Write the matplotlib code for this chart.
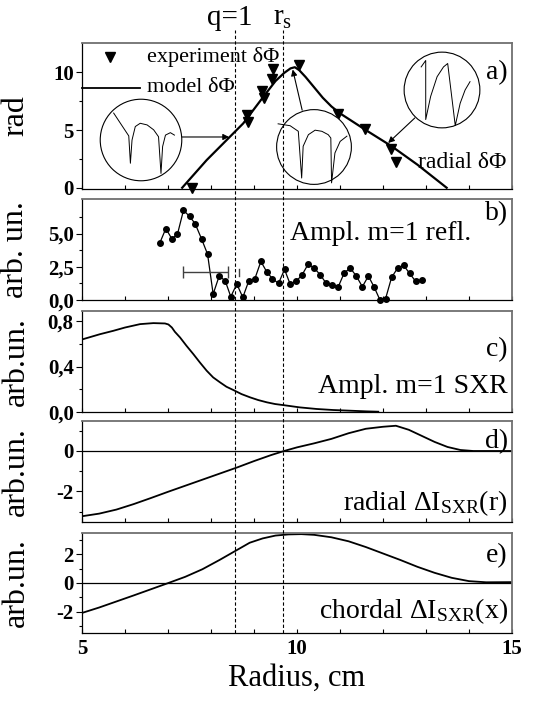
import numpy as np
import matplotlib.pyplot as plt
from matplotlib.lines import Line2D
from matplotlib.patches import Circle
from matplotlib.transforms import blended_transform_factory

plt.rcParams['font.family'] = ['Liberation Serif', 'DejaVu Serif']
plt.rcParams['mathtext.fontset'] = 'custom'
plt.rcParams['mathtext.rm'] = 'Liberation Serif'
plt.rcParams['mathtext.it'] = 'Liberation Serif:italic'

# a) phase perturbation, experiment and model
exp_r = [7.55, 8.83, 8.85, 9.18, 9.24, 9.41, 9.45, 10.05, 10.96, 11.58, 12.18, 12.3]
exp_phi = [0.0, 6.3, 5.7, 8.4, 7.8, 9.4, 10.3, 10.6, 6.4, 5.1, 3.4, 2.2]
mod_r = [7.33, 7.9, 8.44, 8.75, 9.22, 9.5, 9.7, 9.85, 9.95, 10.05, 10.2, 10.4, 10.6,
         10.8, 11.0, 11.6, 12.2, 12.8, 13.48]
mod_phi = [0.0, 2.4, 4.42, 5.58, 7.9, 9.25, 9.95, 10.35, 10.45, 10.2, 9.6, 8.7, 7.8,
           7.05, 6.45, 5.0, 3.6, 2.0, 0.0]

# b) reflectometry m=1 amplitude
refl_r = [6.81, 6.95, 7.09, 7.22, 7.36, 7.5, 7.63, 7.78, 7.92, 8.05, 8.19, 8.33, 8.46, 8.6,
          8.74, 8.88, 9.02, 9.16, 9.3, 9.43, 9.57, 9.71, 9.84, 9.98, 10.12, 10.26, 10.4,
          10.54, 10.68, 10.82, 10.96, 11.1, 11.24, 11.38, 11.52, 11.66, 11.79, 11.93,
          12.06, 12.2, 12.34, 12.48, 12.62, 12.76, 12.9]
refl_amp = [4.3, 5.375, 4.6, 4.95, 6.75, 6.3, 5.75, 4.6, 3.45, 0.45, 1.8, 1.45, 0.25, 1.2,
            0.2, 1.45, 1.6, 2.9, 2.1, 1.6, 1.25, 2.3, 1.2, 1.4, 1.9, 2.7, 2.4,
            1.9, 1.25, 1.15, 1.0, 2.05, 2.4, 1.8, 1.0, 1.8, 1.0, 0.0,
            0.1, 1.7, 2.4, 2.6, 2.0, 1.4, 1.5]

# c) SXR m=1 amplitude
sxr_r = [5.0, 5.42, 5.73, 6.0, 6.35, 6.66, 6.93, 7.01, 7.09, 7.16, 7.28, 7.43, 7.59, 7.74,
         7.9, 8.05, 8.21, 8.36, 8.52, 8.71, 8.91, 9.1, 9.3, 9.49, 9.67, 10.07, 10.46,
         10.84, 11.23, 11.62, 11.89]
sxr_amp = [0.64, 0.687, 0.717, 0.746, 0.776, 0.785, 0.782, 0.773, 0.746, 0.708, 0.658,
           0.584, 0.51, 0.437, 0.363, 0.304, 0.26, 0.221, 0.192, 0.156, 0.127, 0.103,
           0.083, 0.068, 0.059, 0.038, 0.024, 0.015, 0.009, 0.003, 0.0]

# d) radial SXR perturbation
rad_r = [5.0, 5.4, 5.8, 6.2, 6.6, 7.0, 7.4, 7.8, 8.2, 8.6, 9.0, 9.4, 9.7, 10.0, 10.4,
         10.8, 11.2, 11.6, 12.0, 12.3, 12.6, 12.9, 13.2, 13.5, 13.8, 14.1, 15.0]
rad_di = [-3.23, -3.1, -2.9, -2.63, -2.33, -2.02, -1.72, -1.42, -1.12, -0.82, -0.5, -0.2,
          0.0, 0.18, 0.38, 0.6, 0.88, 1.1, 1.2, 1.25, 1.05, 0.75, 0.45, 0.2, 0.05, 0.0, 0.0]

# e) chordal SXR perturbation
chd_x = [5.0, 5.4, 5.8, 6.2, 6.6, 7.0, 7.4, 7.8, 8.2, 8.55, 8.9, 9.2, 9.5, 9.8, 10.1,
         10.4, 10.8, 11.2, 11.6, 12.0, 12.4, 12.8, 13.2, 13.6, 14.0, 14.4, 15.0]
chd_di = [-2.1, -1.72, -1.3, -0.88, -0.45, -0.02, 0.42, 0.95, 1.6, 2.2, 2.8, 3.1, 3.3,
          3.38, 3.4, 3.35, 3.18, 2.9, 2.5, 2.05, 1.6, 1.12, 0.7, 0.35, 0.12, 0.04, 0.05]

r_q1 = 8.55
r_s = 9.67

# little signal sketches shown inside the circles (unit-circle coords)
sig1_x = [-0.67, -0.30, -0.26, -0.22, -0.14, -0.02, 0.15, 0.31, 0.43, 0.49, 0.53, 0.6, 0.72, 0.82]
sig1_y = [0.66, 0.10, -0.57, 0.0, 0.33, 0.41, 0.37, 0.25, 0.08, -0.82, -0.16, 0.12, 0.18, 0.12]
sig2_x = [-0.96, -0.64, -0.42, -0.33, -0.29, -0.15, 0.03, 0.21, 0.38, 0.45, 0.47, 0.56, 0.7, 0.88]
sig2_y = [0.62, 0.57, 0.42, -0.83, 0.02, 0.33, 0.45, 0.42, 0.33, 0.24, -0.96, -0.16, 0.15, 0.29]
sig3_x = [-0.55, -0.43, -0.43, -0.3, -0.13, 0.04, 0.15, 0.35, 0.48, 0.61, 0.74]
sig3_y = [0.61, 0.78, -0.78, -0.17, 0.35, 0.61, 0.70, -0.94, -0.35, 0.0, 0.22]

W, H = 549, 702
fig = plt.figure(figsize=(W / 100, H / 100), dpi=100)


def box(top, bottom, left=82, right=512):
    return [left / W, 1 - bottom / H, (right - left) / W, (bottom - top) / H]


axs = [fig.add_axes(box(43, 189)),
       fig.add_axes(box(199, 300)),
       fig.add_axes(box(310.7, 411.7)),
       fig.add_axes(box(420.7, 521.7)),
       fig.add_axes(box(532.7, 633))]
ax_a, ax_b, ax_c, ax_d, ax_e = axs

for ax in axs:
    ax.set_xlim(5, 15)
    ax.set_xticks([5, 10, 15])
    ax.set_xticks(np.arange(5, 16, 1), minor=True)
    ax.tick_params(axis='x', which='both', direction='in', length=3, width=0.8,
                   top=False, labelbottom=False)
    ax.tick_params(axis='y', which='major', direction='out', length=4, width=0.8,
                   labelsize=15, pad=2)
    ax.tick_params(axis='y', which='minor', direction='out', length=2.5, width=0.8)
    for s in ['top', 'right']:
        ax.spines[s].set_color('#707070')
        ax.spines[s].set_linewidth(1.3)
    for s in ['left', 'bottom']:
        ax.spines[s].set_linewidth(0.9)

# a)
ax_a.set_ylim(-0.11, 12.55)
ax_a.set_yticks([0, 5, 10], ['0', '5', '10'], fontweight='bold')
ax_a.set_yticks([2.5, 7.5], minor=True)
ax_a.plot(mod_r, mod_phi, color='black', lw=1.6)
ax_a.plot(exp_r, exp_phi, 'v', color='black', ms=7.5, clip_on=False)
ax_a.plot([5.65], [11.33], 'v', color='black', ms=7.5)
ax_a.text(6.51, 11.33, 'experiment δΦ', fontsize=16, va='center')
ax_a.plot([5.0, 6.35], [8.65, 8.65], color='black', lw=1.3, clip_on=False)
ax_a.text(6.51, 8.65, 'model δΦ', fontsize=16, va='center')
ax_a.text(12.81, 2.2, 'radial δΦ', fontsize=17, va='center')
ax_a.text(14.9, 10.0, 'a)', fontsize=20, ha='right', va='center')
ax_a.set_ylabel('rad', fontsize=23)

arrow = dict(arrowstyle='-|>', color='black', lw=0.8, mutation_scale=9,
             shrinkA=0, shrinkB=0)
ax_a.annotate('', xy=(8.42, 4.4), xytext=(7.33, 4.4), arrowprops=arrow)
ax_a.annotate('', xy=(9.9, 10.25), xytext=(10.12, 6.73), arrowprops=arrow)
ax_a.annotate('', xy=(12.12, 3.88), xytext=(12.74, 6.05), arrowprops=arrow)

for (cx, cy, rr), sx, sy in [((141, 140, 41), sig1_x, sig1_y),
                             ((314, 147, 37.5), sig2_x, sig2_y),
                             ((442, 90, 38), sig3_x, sig3_y)]:
    ins = fig.add_axes([(cx - rr - 1) / W, 1 - (cy + rr + 1) / H,
                        (2 * rr + 2) / W, (2 * rr + 2) / H])
    ins.set_xlim(-1.03, 1.03)
    ins.set_ylim(-1.03, 1.03)
    ins.axis('off')
    ins.add_patch(Circle((0, 0), 1, facecolor='white', edgecolor='black', lw=0.8))
    ins.plot(sx, sy, color='black', lw=0.7)

# b)
ax_b.set_ylim(0, 7.6)
ax_b.set_yticks([0, 2.5, 5.0], ['0,0', '2,5', '5,0'], fontweight='bold')
ax_b.set_yticks([1.25, 3.75, 6.25], minor=True)
ax_b.plot(refl_r, refl_amp, '-o', color='black', lw=0.9, ms=4, clip_on=False)
ax_b.errorbar([7.865], [2.1], xerr=[0.52], fmt='none', ecolor='#404040', lw=1,
              capsize=4)
ax_b.plot([8.65, 8.65], [1.8, 2.3], color='#404040', lw=1)
ax_b.text(9.84, 5.0, 'Ampl. m=1 refl.', fontsize=20, va='center')
ax_b.text(14.9, 6.5, 'b)', fontsize=20, ha='right', va='center')
ax_b.set_ylabel('arb. un.', fontsize=23)

# c)
ax_c.set_ylim(0, 0.895)
ax_c.set_yticks([0, 0.4, 0.8], ['0,0', '0,4', '0,8'], fontweight='bold')
ax_c.set_yticks([0.2, 0.6], minor=True)
ax_c.plot(sxr_r, sxr_amp, color='black', lw=1.3)
ax_c.text(14.9, 0.22, 'Ampl. m=1 SXR', fontsize=20, ha='right', va='center')
ax_c.text(14.9, 0.55, 'c)', fontsize=20, ha='right', va='center')
ax_c.set_ylabel('arb.un.', fontsize=23)

# d)
ax_d.set_ylim(-3.5, 1.5)
ax_d.set_yticks([-2, 0], ['-2', '0'], fontweight='bold')
ax_d.set_yticks([-3, -1, 1], minor=True)
ax_d.axhline(0, color='black', lw=0.9)
ax_d.plot(rad_r, rad_di, color='black', lw=1.3)
ax_d.text(14.9, 0.45, 'd)', fontsize=20, ha='right', va='center')
ax_d.text(14.9, -2.6, r'radial $\mathregular{\Delta I_{SXR}(r)}$', fontsize=20,
          ha='right', va='center')
ax_d.set_ylabel('arb.un.', fontsize=23)

# e)
ax_e.set_ylim(-3.5, 3.5)
ax_e.set_yticks([-2, 0, 2], ['-2', '0', '2'], fontweight='bold')
ax_e.set_yticks([-3, -1, 1, 3], minor=True)
ax_e.axhline(0, color='black', lw=0.9)
ax_e.plot(chd_x, chd_di, color='black', lw=1.3)
ax_e.text(14.9, 1.93, 'e)', fontsize=20, ha='right', va='center')
ax_e.text(14.9, -2.0, r'chordal $\mathregular{\Delta I_{SXR}(x)}$', fontsize=20,
          ha='right', va='center')
ax_e.set_ylabel('arb.un.', fontsize=23)
ax_e.set_xticks([5, 10, 15], ['5', '10', '15'], fontweight='bold')
ax_e.tick_params(axis='x', labelbottom=True, labelsize=15, pad=4)
ax_e.set_xlabel('Radius, cm', fontsize=22)

for ax in axs:
    ax.yaxis.set_label_coords(-0.12, 0.5)

# q=1 and r_s positions run through all panels
tr = blended_transform_factory(ax_e.transData, fig.transFigure)
for r0 in [r_q1, r_s]:
    fig.add_artist(Line2D([r0, r0], [1 - 633 / H, 1 - 30 / H], transform=tr,
                          color='black', lw=0.8, ls=(0, (3, 2))))
fig.text(230 / W, 1 - 18 / H, 'q=1', fontsize=21, ha='center', va='center')
fig.text(273 / W, 1 - 18 / H, r'$\mathregular{r_s}$', fontsize=21, ha='left',
         va='center')

fig.savefig('out.png', dpi=100)
